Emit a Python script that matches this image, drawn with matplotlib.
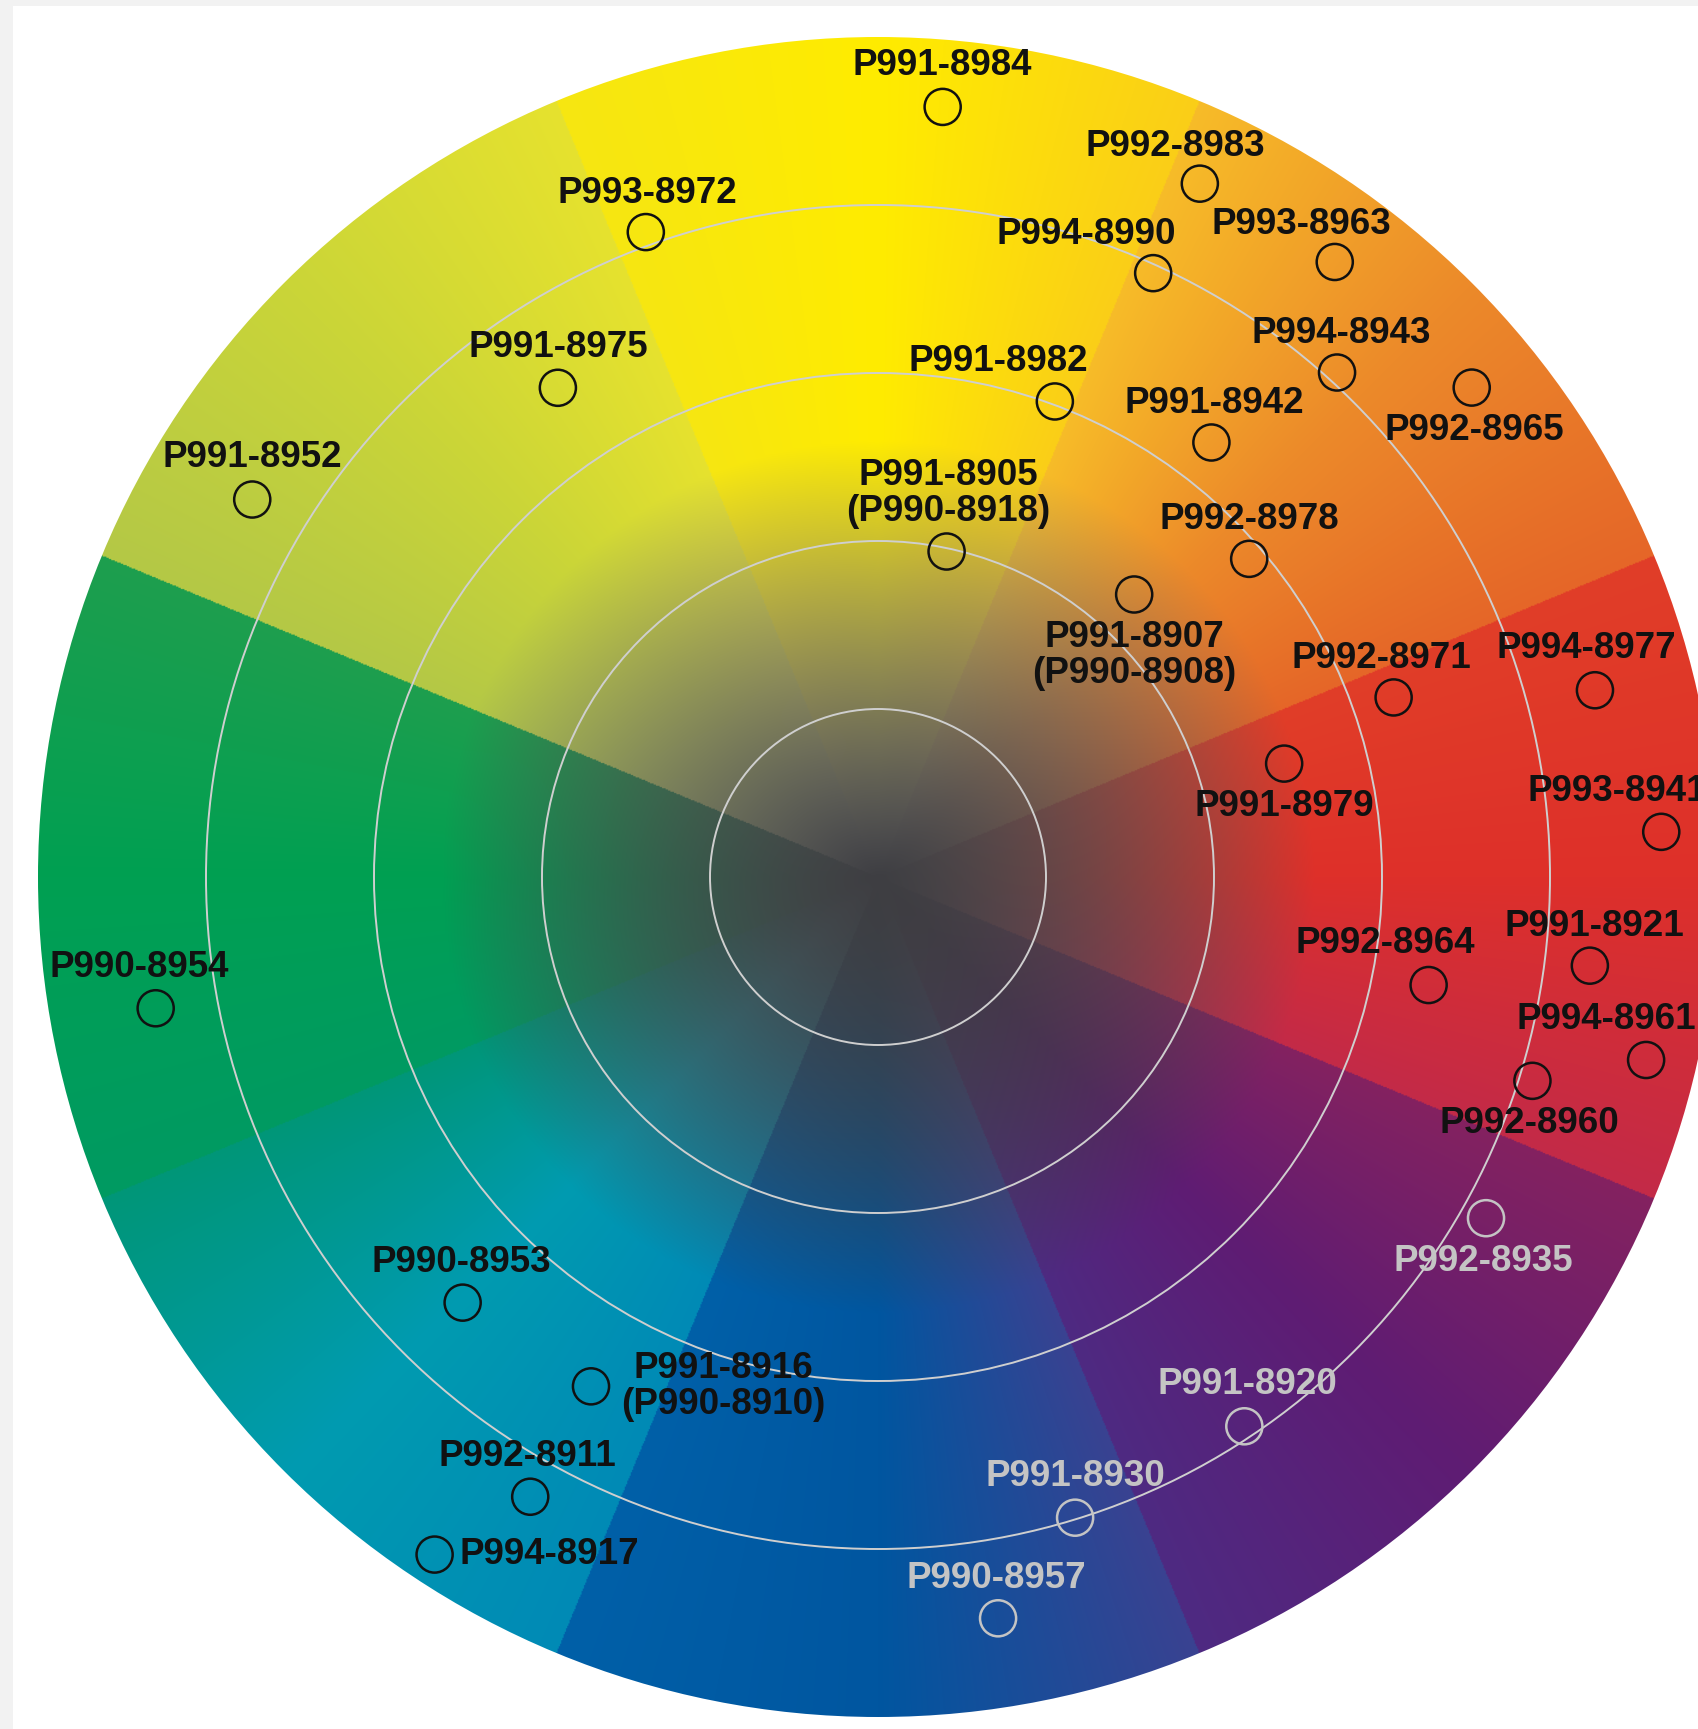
import numpy as np
import matplotlib.pyplot as plt
from matplotlib.patches import Circle, Rectangle

# sample codes placed on the colour wheel: hue angle (deg, ccw from 3 o'clock)
# and distance from the centre in ring units (outer edge = 5)
codes = [
    "P991-8984", "P992-8983", "P993-8972", "P994-8990", "P993-8963",
    "P991-8975", "P994-8943", "P992-8965", "P991-8982", "P991-8942",
    "P991-8952", "P991-8905\n(P990-8918)", "P992-8978", "P991-8907\n(P990-8908)",
    "P992-8971", "P994-8977", "P991-8979", "P993-8941", "P991-8921",
    "P992-8964", "P994-8961", "P992-8960", "P990-8954", "P992-8935",
    "P990-8953", "P991-8916\n(P990-8910)", "P991-8920", "P992-8911",
    "P991-8930", "P994-8917", "P990-8957",
]
hue_deg = [85.2, 65.1, 109.8, 65.5, 53.4, 123.2, 47.7, 39.5, 69.6, 52.5,
           148.9, 78.1, 40.6, 47.8, 19.2, 14.6, 15.6, 3.3, -7.1, -11.1,
           -13.4, -17.3, 190.3, -29.3, 225.7, 240.6, -56.3, 240.7, -72.9,
           236.8, -80.8]
ring = [4.60, 4.55, 4.08, 3.95, 4.56, 3.48, 4.06, 4.58, 3.02, 3.26,
        4.35, 1.98, 2.91, 2.27, 3.25, 4.41, 2.51, 4.67, 4.27, 3.34,
        4.70, 4.08, 4.37, 4.15, 3.54, 3.48, 3.93, 4.23, 3.99, 4.82, 4.47]
pale = ["P992-8935", "P991-8920", "P991-8930", "P990-8957"]

# wheel: 8 sectors, each a hue ramp (start, middle, end colour)
sector_edges = [-22.5, 22.5, 67.5, 112.5, 157.5, 202.5, 247.5, 292.5, 337.5]
sector_start = [(195, 42, 72), (229, 102, 40), (250, 206, 24), (230, 226, 46),
                (30, 158, 78), (0, 150, 120), (0, 96, 168), (78, 42, 130)]
sector_mid = [(222, 48, 42), (236, 138, 42), (255, 236, 0), (202, 213, 56),
              (0, 160, 82), (0, 155, 176), (0, 86, 160), (95, 28, 115)]
sector_end = [(225, 62, 40), (247, 188, 40), (246, 230, 18), (180, 200, 70),
              (0, 154, 98), (0, 138, 182), (58, 66, 145), (132, 34, 96)]
core = np.array([62, 62, 66]) / 255

# label offsets from each circle, in points
lab_dx = [0, -18, 1, -48, -24, 0, 3, 2, -41, 2, 0, 1, 0, 0, -9, -6, 0, -32, 3,
          -31, -29, -2, -12, -2, -1, 95, 2, -2, 0, 18, -1]
lab_dy = [30, 27, 28, 28, 27, 29, 28, -31, 29, 28, 30, 42, 28, -44, 28, 30, -31,
          29, 28, 30, 29, -31, 29, -31, 29, 0, 30, 29, 30, 0, 29]

W, H = 1699, 1729
cx, cy, unit = 878, 877, 168

fig = plt.figure(figsize=(W / 100, H / 100), dpi=100)
fig.patch.set_facecolor("#f2f2f2")
fig.add_artist(Rectangle((13 / W, 0), 1, (H - 6) / H, transform=fig.transFigure,
                         fc="white", ec="none", zorder=0))
ax = fig.add_axes([0, 0, 1, 1])
ax.set_facecolor("none")
ax.set_axis_off()
ax.set_xlim(-cx / unit, (W - cx) / unit)
ax.set_ylim(-(H - cy) / unit, cy / unit)

# colour wheel image
n = 1400
g = np.linspace(-5, 5, n)
X, Y = np.meshgrid(g, g)
r = np.hypot(X, Y)
th = (np.degrees(np.arctan2(Y, X)) + 22.5) % 360 - 22.5
rgb = np.zeros((n, n, 3))
for i in range(8):
    a0, a1 = sector_edges[i], sector_edges[i + 1]
    m = (th >= a0) & (th < a1)
    f = ((th[m] - a0) / (a1 - a0))[:, None]
    c0 = np.array(sector_start[i]) / 255
    c1 = np.array(sector_mid[i]) / 255
    c2 = np.array(sector_end[i]) / 255
    rgb[m] = np.where(f < 0.5, c0 + (c1 - c0) * f * 2, c1 + (c2 - c1) * (f * 2 - 1))
# towards the centre the hue greys out and darkens
lum = (0.36 * rgb[..., 0] + 0.5 * rgb[..., 1] + 0.14 * rgb[..., 2])[..., None]
t = np.clip(r / 2.6, 0, 1)[..., None]
rgb = lum + (rgb - lum) * t ** 0.8
rgb = core + (rgb - core) * t
im = ax.imshow(np.clip(rgb, 0, 1), extent=(-5, 5, -5, 5), origin="lower",
               interpolation="bilinear", zorder=1)
im.set_clip_path(Circle((0, 0), 5, transform=ax.transData))

for k in range(1, 5):
    ax.add_patch(Circle((0, 0), k, fill=False, ec="#cfcfcf", lw=1.4, zorder=2))

th_r = np.radians(hue_deg)
xs = np.array(ring) * np.cos(th_r)
ys = np.array(ring) * np.sin(th_r)
cols = ["#c4c4c4" if c in pale else "#111111" for c in codes]
ax.scatter(xs, ys, s=26 ** 2, facecolors="none", edgecolors=cols,
           linewidths=1.8, zorder=4)

for i, c in enumerate(codes):
    ha = "left" if c == "P994-8917" else "center"
    ax.annotate(c, (xs[i], ys[i]), xytext=(lab_dx[i], lab_dy[i]),
                textcoords="offset points", ha=ha, va="center",
                fontsize=26.5, fontweight="bold", family="Liberation Sans",
                color=cols[i], linespacing=1.05, zorder=5)

fig.savefig("out.png", dpi=100, facecolor=fig.get_facecolor())
